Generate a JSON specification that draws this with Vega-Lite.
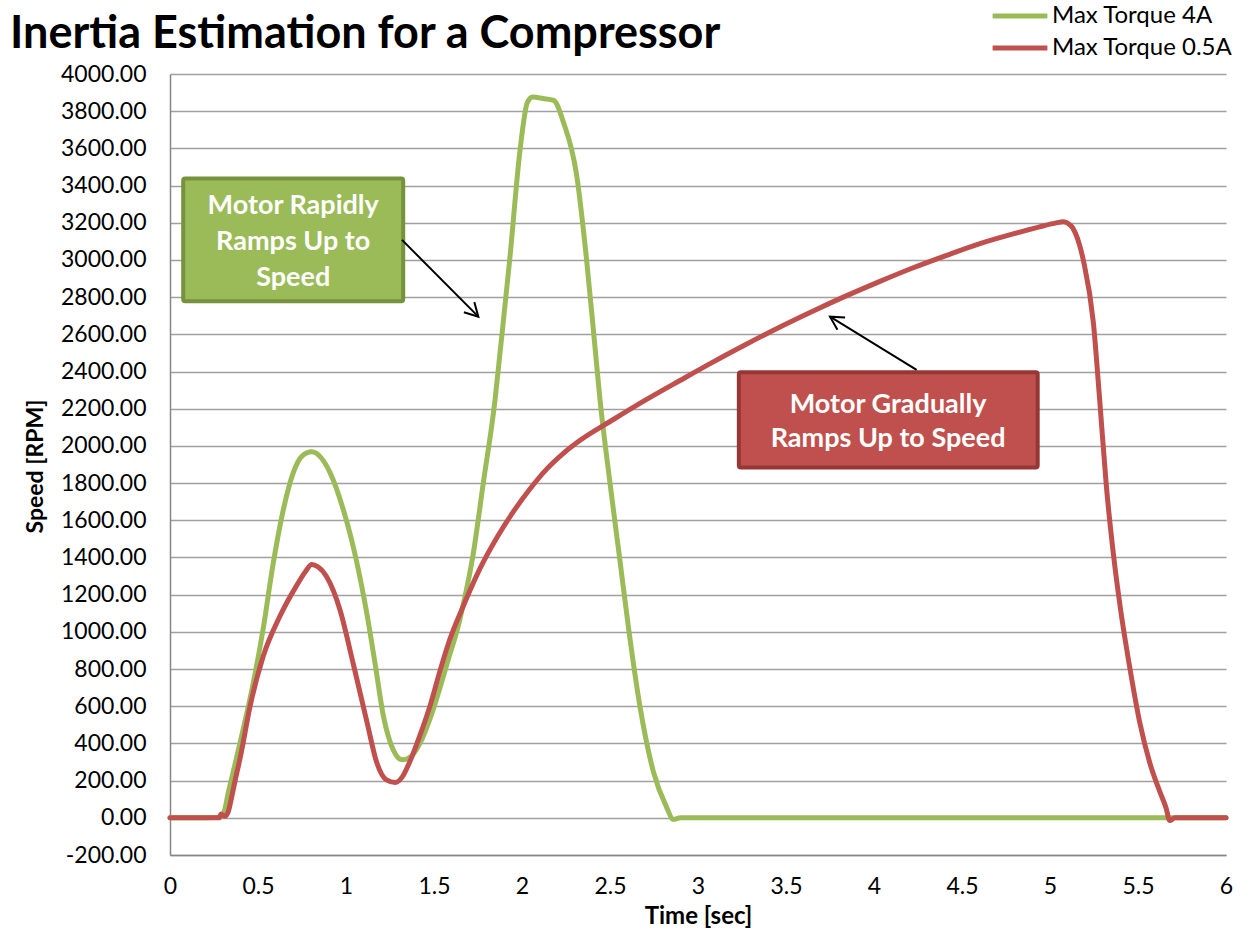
{
  "$schema": "https://vega.github.io/schema/vega-lite/v6.json",
  "width": 1056,
  "height": 781,
  "autosize": {"type": "none"},
  "padding": {"left": 170, "top": 74, "right": 21, "bottom": 75},
  "background": "white",
  "config": {"font": "Lato", "view": {"stroke": null}},
  "title": {
    "text": "Inertia Estimation for a Compressor",
    "anchor": "start",
    "frame": "group",
    "fontSize": 45,
    "fontWeight": "bold",
    "font": "Lato",
    "color": "#000000",
    "dx": -160,
    "offset": 26,
    "dy": 119,
    "baseline": "alphabetic"
  },
  "resolve": {"axis": {"x": "independent", "y": "independent"}},
  "datasets": {
    "speed": [
      {"series": "Max Torque 4A", "t": 0, "v": 0},
      {"series": "Max Torque 4A", "t": 0.1, "v": 0},
      {"series": "Max Torque 4A", "t": 0.2, "v": 0},
      {"series": "Max Torque 4A", "t": 0.29, "v": 5},
      {"series": "Max Torque 4A", "t": 0.31, "v": 40},
      {"series": "Max Torque 4A", "t": 0.33, "v": 130},
      {"series": "Max Torque 4A", "t": 0.36, "v": 250},
      {"series": "Max Torque 4A", "t": 0.415, "v": 473},
      {"series": "Max Torque 4A", "t": 0.47, "v": 710},
      {"series": "Max Torque 4A", "t": 0.53, "v": 1020},
      {"series": "Max Torque 4A", "t": 0.585, "v": 1360},
      {"series": "Max Torque 4A", "t": 0.64, "v": 1640},
      {"series": "Max Torque 4A", "t": 0.7, "v": 1855},
      {"series": "Max Torque 4A", "t": 0.75, "v": 1945},
      {"series": "Max Torque 4A", "t": 0.805, "v": 1968},
      {"series": "Max Torque 4A", "t": 0.86, "v": 1935},
      {"series": "Max Torque 4A", "t": 0.91, "v": 1855},
      {"series": "Max Torque 4A", "t": 0.98, "v": 1672},
      {"series": "Max Torque 4A", "t": 1.06, "v": 1380},
      {"series": "Max Torque 4A", "t": 1.12, "v": 1090},
      {"series": "Max Torque 4A", "t": 1.17, "v": 800},
      {"series": "Max Torque 4A", "t": 1.21, "v": 560},
      {"series": "Max Torque 4A", "t": 1.25, "v": 410},
      {"series": "Max Torque 4A", "t": 1.29, "v": 330},
      {"series": "Max Torque 4A", "t": 1.32, "v": 312},
      {"series": "Max Torque 4A", "t": 1.37, "v": 330},
      {"series": "Max Torque 4A", "t": 1.42, "v": 400},
      {"series": "Max Torque 4A", "t": 1.48, "v": 540},
      {"series": "Max Torque 4A", "t": 1.534, "v": 700},
      {"series": "Max Torque 4A", "t": 1.59, "v": 880},
      {"series": "Max Torque 4A", "t": 1.629, "v": 1000},
      {"series": "Max Torque 4A", "t": 1.667, "v": 1150},
      {"series": "Max Torque 4A", "t": 1.723, "v": 1420},
      {"series": "Max Torque 4A", "t": 1.78, "v": 1800},
      {"series": "Max Torque 4A", "t": 1.847, "v": 2250},
      {"series": "Max Torque 4A", "t": 1.875, "v": 2500},
      {"series": "Max Torque 4A", "t": 1.93, "v": 3000},
      {"series": "Max Torque 4A", "t": 1.99, "v": 3600},
      {"series": "Max Torque 4A", "t": 2.03, "v": 3845},
      {"series": "Max Torque 4A", "t": 2.06, "v": 3876},
      {"series": "Max Torque 4A", "t": 2.12, "v": 3868},
      {"series": "Max Torque 4A", "t": 2.18, "v": 3858},
      {"series": "Max Torque 4A", "t": 2.235, "v": 3742},
      {"series": "Max Torque 4A", "t": 2.31, "v": 3459},
      {"series": "Max Torque 4A", "t": 2.367, "v": 3000},
      {"series": "Max Torque 4A", "t": 2.4, "v": 2680},
      {"series": "Max Torque 4A", "t": 2.443, "v": 2250},
      {"series": "Max Torque 4A", "t": 2.5, "v": 1800},
      {"series": "Max Torque 4A", "t": 2.557, "v": 1380},
      {"series": "Max Torque 4A", "t": 2.604, "v": 1030},
      {"series": "Max Torque 4A", "t": 2.67, "v": 600},
      {"series": "Max Torque 4A", "t": 2.746, "v": 250},
      {"series": "Max Torque 4A", "t": 2.82, "v": 60},
      {"series": "Max Torque 4A", "t": 2.86, "v": -8},
      {"series": "Max Torque 4A", "t": 2.9, "v": 0},
      {"series": "Max Torque 4A", "t": 3.5, "v": 0},
      {"series": "Max Torque 4A", "t": 4, "v": 0},
      {"series": "Max Torque 4A", "t": 4.5, "v": 0},
      {"series": "Max Torque 4A", "t": 5, "v": 0},
      {"series": "Max Torque 4A", "t": 5.5, "v": 0},
      {"series": "Max Torque 4A", "t": 6, "v": 0},
      {"series": "Max Torque 0.5A", "t": 0, "v": 0},
      {"series": "Max Torque 0.5A", "t": 0.1, "v": 0},
      {"series": "Max Torque 0.5A", "t": 0.2, "v": 0},
      {"series": "Max Torque 0.5A", "t": 0.28, "v": 0},
      {"series": "Max Torque 0.5A", "t": 0.29, "v": 20},
      {"series": "Max Torque 0.5A", "t": 0.31, "v": 8},
      {"series": "Max Torque 0.5A", "t": 0.33, "v": 30},
      {"series": "Max Torque 0.5A", "t": 0.35, "v": 110},
      {"series": "Max Torque 0.5A", "t": 0.37, "v": 200},
      {"series": "Max Torque 0.5A", "t": 0.4, "v": 328},
      {"series": "Max Torque 0.5A", "t": 0.455, "v": 600},
      {"series": "Max Torque 0.5A", "t": 0.53, "v": 870},
      {"series": "Max Torque 0.5A", "t": 0.625, "v": 1085},
      {"series": "Max Torque 0.5A", "t": 0.72, "v": 1250},
      {"series": "Max Torque 0.5A", "t": 0.77, "v": 1325},
      {"series": "Max Torque 0.5A", "t": 0.805, "v": 1362},
      {"series": "Max Torque 0.5A", "t": 0.84, "v": 1350},
      {"series": "Max Torque 0.5A", "t": 0.89, "v": 1296},
      {"series": "Max Torque 0.5A", "t": 0.966, "v": 1118},
      {"series": "Max Torque 0.5A", "t": 1.04, "v": 833},
      {"series": "Max Torque 0.5A", "t": 1.12, "v": 511},
      {"series": "Max Torque 0.5A", "t": 1.175, "v": 296},
      {"series": "Max Torque 0.5A", "t": 1.23, "v": 204},
      {"series": "Max Torque 0.5A", "t": 1.28, "v": 190},
      {"series": "Max Torque 0.5A", "t": 1.32, "v": 220},
      {"series": "Max Torque 0.5A", "t": 1.36, "v": 296},
      {"series": "Max Torque 0.5A", "t": 1.42, "v": 443},
      {"series": "Max Torque 0.5A", "t": 1.48, "v": 610},
      {"series": "Max Torque 0.5A", "t": 1.534, "v": 790},
      {"series": "Max Torque 0.5A", "t": 1.59, "v": 960},
      {"series": "Max Torque 0.5A", "t": 1.667, "v": 1140},
      {"series": "Max Torque 0.5A", "t": 1.761, "v": 1340},
      {"series": "Max Torque 0.5A", "t": 1.856, "v": 1505},
      {"series": "Max Torque 0.5A", "t": 1.95, "v": 1645},
      {"series": "Max Torque 0.5A", "t": 2.045, "v": 1768},
      {"series": "Max Torque 0.5A", "t": 2.14, "v": 1875},
      {"series": "Max Torque 0.5A", "t": 2.235, "v": 1960},
      {"series": "Max Torque 0.5A", "t": 2.33, "v": 2030},
      {"series": "Max Torque 0.5A", "t": 2.519, "v": 2142},
      {"series": "Max Torque 0.5A", "t": 2.708, "v": 2250},
      {"series": "Max Torque 0.5A", "t": 2.898, "v": 2352},
      {"series": "Max Torque 0.5A", "t": 3.087, "v": 2452},
      {"series": "Max Torque 0.5A", "t": 3.277, "v": 2548},
      {"series": "Max Torque 0.5A", "t": 3.466, "v": 2640},
      {"series": "Max Torque 0.5A", "t": 3.655, "v": 2726},
      {"series": "Max Torque 0.5A", "t": 3.845, "v": 2808},
      {"series": "Max Torque 0.5A", "t": 4.034, "v": 2885},
      {"series": "Max Torque 0.5A", "t": 4.223, "v": 2958},
      {"series": "Max Torque 0.5A", "t": 4.413, "v": 3025},
      {"series": "Max Torque 0.5A", "t": 4.602, "v": 3088},
      {"series": "Max Torque 0.5A", "t": 4.79, "v": 3140},
      {"series": "Max Torque 0.5A", "t": 4.94, "v": 3178},
      {"series": "Max Torque 0.5A", "t": 5.03, "v": 3198},
      {"series": "Max Torque 0.5A", "t": 5.076, "v": 3205},
      {"series": "Max Torque 0.5A", "t": 5.1, "v": 3198},
      {"series": "Max Torque 0.5A", "t": 5.13, "v": 3171},
      {"series": "Max Torque 0.5A", "t": 5.19, "v": 2996},
      {"series": "Max Torque 0.5A", "t": 5.246, "v": 2666},
      {"series": "Max Torque 0.5A", "t": 5.284, "v": 2226},
      {"series": "Max Torque 0.5A", "t": 5.32, "v": 1787},
      {"series": "Max Torque 0.5A", "t": 5.36, "v": 1420},
      {"series": "Max Torque 0.5A", "t": 5.4, "v": 1127},
      {"series": "Max Torque 0.5A", "t": 5.455, "v": 798},
      {"series": "Max Torque 0.5A", "t": 5.51, "v": 512},
      {"series": "Max Torque 0.5A", "t": 5.568, "v": 292},
      {"series": "Max Torque 0.5A", "t": 5.625, "v": 138},
      {"series": "Max Torque 0.5A", "t": 5.66, "v": 51},
      {"series": "Max Torque 0.5A", "t": 5.68, "v": -15},
      {"series": "Max Torque 0.5A", "t": 5.71, "v": 0},
      {"series": "Max Torque 0.5A", "t": 6, "v": 0}
    ],
    "boxes": [
      {"kind": "rapid", "label": "Motor Rapidly\nRamps Up to\nSpeed", "x1": 0.075, "x2": 1.325, "y1": 3438, "y2": 2778, "cx": 0.70, "cy": 3105},
      {"kind": "gradual", "label": "Motor Gradually\nRamps Up to Speed", "x1": 3.232, "x2": 4.93, "y1": 2396, "y2": 1884, "cx": 4.08, "cy": 2134}
    ],
    "arrows": [
      {"kind": "rapid", "xs": 1.318, "ys": 3108, "xe": 1.752, "ye": 2695},
      {"kind": "gradual", "xs": 4.242, "ys": 2409, "xe": 3.75, "ye": 2695}
    ]
  },
  "layer": [
    {
      "data": {"name": "speed"},
      "mark": {"type": "line", "strokeWidth": 5, "interpolate": "monotone", "strokeCap": "round", "strokeJoin": "round"},
      "encoding": {
        "x": {
          "field": "t", "type": "quantitative",
          "scale": {"domain": [0, 6], "nice": false, "zero": false},
          "axis": {
            "title": "Time [sec]",
            "values": [0, 0.5, 1, 1.5, 2, 2.5, 3, 3.5, 4, 4.5, 5, 5.5, 6],
            "format": ".1~f",
            "grid": false, "ticks": false, "labelFlush": false, "labelOverlap": false,
            "labelFontSize": 23, "labelFont": "Lato", "labelColor": "#000000",
            "labelPadding": 20,
            "domainColor": "#868686", "domainWidth": 1.5,
            "titleFontSize": 24, "titleFont": "Lato", "titleFontWeight": "bold", "titleColor": "#000000",
            "titleX": 528, "titleY": 61, "titleBaseline": "middle"
          }
        },
        "y": {
          "field": "v", "type": "quantitative",
          "scale": {"domain": [-200, 4000], "nice": false, "zero": false},
          "axis": {
            "title": "Speed [RPM]",
            "values": [-200, 0, 200, 400, 600, 800, 1000, 1200, 1400, 1600, 1800, 2000, 2200, 2400, 2600, 2800, 3000, 3200, 3400, 3600, 3800, 4000],
            "labelExpr": "replace(format(datum.value, '.2f'), '\u2212', '-')",
            "grid": true, "gridColor": "#A0A0A0", "gridWidth": 1.5,
            "ticks": false, "labelFlush": false, "labelOverlap": false,
            "labelFontSize": 23, "labelFont": "Lato", "labelColor": "#000000",
            "labelPadding": 24,
            "domainColor": "#868686", "domainWidth": 1.5,
            "titleFontSize": 23, "titleFont": "Lato", "titleFontWeight": "bold", "titleColor": "#000000",
            "titleAngle": -90, "titleX": -135, "titleY": 392, "titleBaseline": "middle", "titleAlign": "center"
          }
        },
        "color": {
          "field": "series", "type": "nominal",
          "scale": {"domain": ["Max Torque 4A", "Max Torque 0.5A"], "range": ["#9BBB59", "#C0504D"]},
          "legend": {
            "orient": "none", "legendX": 820, "legendY": -74,
            "title": null,
            "labelFontSize": 24, "labelFont": "Lato", "labelColor": "#000000", "labelLimit": 300,
            "symbolType": "stroke", "symbolSize": 3000, "symbolStrokeWidth": 5,
            "clipHeight": 32, "rowPadding": 0, "padding": 0, "labelOffset": 2
          }
        }
      }
    },
    {
      "data": {"name": "boxes"},
      "mark": {"type": "rect", "strokeWidth": 4, "cornerRadius": 2},
      "encoding": {
        "x": {"field": "x1", "type": "quantitative", "scale": {"domain": [0, 6], "nice": false, "zero": false}, "axis": null},
        "x2": {"field": "x2"},
        "y": {"field": "y1", "type": "quantitative", "scale": {"domain": [-200, 4000], "nice": false, "zero": false}, "axis": null},
        "y2": {"field": "y2"},
        "fill": {"field": "kind", "type": "nominal", "scale": {"domain": ["rapid", "gradual"], "range": ["#9BBB59", "#C0504D"]}, "legend": null},
        "stroke": {"field": "kind", "type": "nominal", "scale": {"domain": ["rapid", "gradual"], "range": ["#76923C", "#963735"]}, "legend": null}
      }
    },
    {
      "data": {"name": "boxes"},
      "transform": [{"filter": "datum.kind === 'rapid'"}],
      "mark": {"type": "text", "lineBreak": "\n", "lineHeight": 36, "fontSize": 27, "fontWeight": "bold", "font": "Lato", "color": "#FFFFFF", "align": "center", "baseline": "middle", "dy": -34},
      "encoding": {
        "x": {"field": "cx", "type": "quantitative", "scale": {"domain": [0, 6], "nice": false, "zero": false}, "axis": null},
        "y": {"field": "cy", "type": "quantitative", "scale": {"domain": [-200, 4000], "nice": false, "zero": false}, "axis": null},
        "text": {"field": "label"}
      }
    },
    {
      "data": {"name": "boxes"},
      "transform": [{"filter": "datum.kind === 'gradual'"}],
      "mark": {"type": "text", "lineBreak": "\n", "lineHeight": 34, "fontSize": 27, "fontWeight": "bold", "font": "Lato", "color": "#FFFFFF", "align": "center", "baseline": "middle", "dy": -16},
      "encoding": {
        "x": {"field": "cx", "type": "quantitative", "scale": {"domain": [0, 6], "nice": false, "zero": false}, "axis": null},
        "y": {"field": "cy", "type": "quantitative", "scale": {"domain": [-200, 4000], "nice": false, "zero": false}, "axis": null},
        "text": {"field": "label"}
      }
    },
    {
      "data": {"name": "arrows"},
      "mark": {"type": "rule", "strokeWidth": 2, "color": "#000000"},
      "encoding": {
        "x": {"field": "xs", "type": "quantitative", "scale": {"domain": [0, 6], "nice": false, "zero": false}, "axis": null},
        "y": {"field": "ys", "type": "quantitative", "scale": {"domain": [-200, 4000], "nice": false, "zero": false}, "axis": null},
        "x2": {"field": "xe"},
        "y2": {"field": "ye"}
      }
    },
    {
      "data": {"name": "arrows"},
      "transform": [{"filter": "datum.kind === 'rapid'"}],
      "mark": {"type": "point", "shape": "M -0.55 1 L 0 0 L 0.55 1", "size": 700, "filled": false, "stroke": "#000000", "strokeWidth": 2, "opacity": 1, "angle": 135.7},
      "encoding": {
        "x": {"field": "xe", "type": "quantitative", "scale": {"domain": [0, 6], "nice": false, "zero": false}, "axis": null},
        "y": {"field": "ye", "type": "quantitative", "scale": {"domain": [-200, 4000], "nice": false, "zero": false}, "axis": null}
      }
    },
    {
      "data": {"name": "arrows"},
      "transform": [{"filter": "datum.kind === 'gradual'"}],
      "mark": {"type": "point", "shape": "M -0.55 1 L 0 0 L 0.55 1", "size": 700, "filled": false, "stroke": "#000000", "strokeWidth": 2, "opacity": 1, "angle": 301.6},
      "encoding": {
        "x": {"field": "xe", "type": "quantitative", "scale": {"domain": [0, 6], "nice": false, "zero": false}, "axis": null},
        "y": {"field": "ye", "type": "quantitative", "scale": {"domain": [-200, 4000], "nice": false, "zero": false}, "axis": null}
      }
    }
  ]
}
